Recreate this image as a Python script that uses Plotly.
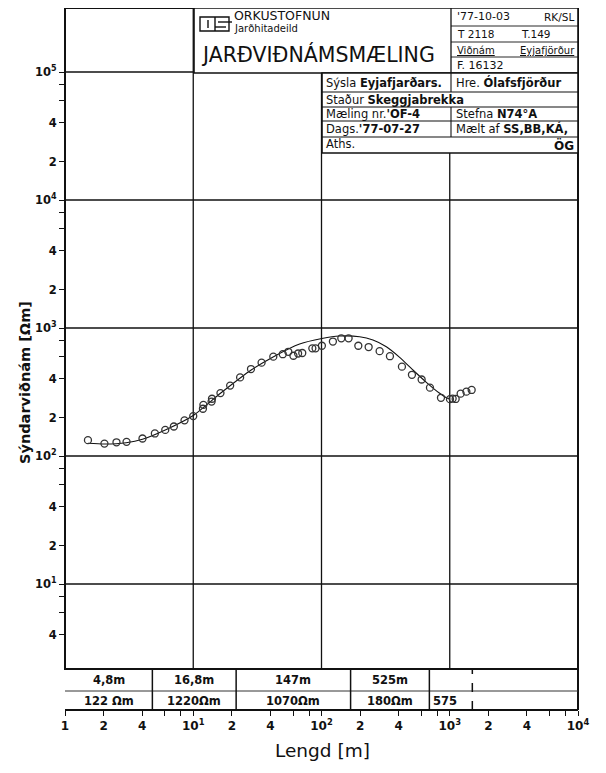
import numpy as np
import plotly.graph_objects as go

# ---------------- data ----------------
spacing_m = [1.51, 2.03, 2.52, 3.02, 4.02, 5.02, 6.05, 7.06, 8.55, 10.0,
             11.9, 12.0, 13.9, 14.0, 16.3, 19.4, 23.2, 28.2, 34.1, 42.1,
             49.9, 55.1, 60.4, 65.7, 70.8, 84.8, 89.9, 100.7, 122.7, 142.7,
             162.7, 193.7, 233.1, 283.9, 341.7, 423.8, 507.2, 603.6, 700.9, 854.1,
             1004, 1053, 1112, 1216, 1348, 1482]
rho_apparent = [133, 125, 128, 129, 137, 150, 160, 170, 190, 205,
                234, 251, 266, 280, 310, 355, 411, 478, 536, 597,
                624, 652, 607, 632, 638, 694, 694, 727, 784, 831,
                831, 727, 710, 659, 602, 499, 431, 396, 342, 285,
                278, 281, 279, 307, 318, 328]

model_spacing = [1.51, 2.03, 3.0, 4.02, 6.05, 10.0, 16.3, 28.3, 42.3, 67.5,
                 100.7, 138.4, 198.3, 251.8, 320.3, 406.7, 516.4, 657.0, 834.2, 940.8, 998]
model_rho = [125.7, 124.1, 127.0, 135.1, 159.7, 207.3, 309.0, 469.8, 596.9, 749.9,
             827.9, 865.9, 855.1, 805.6, 714.3, 590.4, 469.8, 376.6, 309.0, 285.4, 278.7]

layer_thickness = [4.8, 16.8, 147, 525]
layer_thickness_labels = ["4,8m", "16,8m", "147m", "525m"]
layer_res_labels = ["122 Ωm", "1220Ωm", "1070Ωm", "180Ωm", "575"]
table_end_m = 1500

x_tick_vals = [1, 2, 4, 10, 20, 40, 100, 200, 400, 1000, 2000, 4000, 10000]
x_tick_text = ["1", "2", "4", "10<sup>1</sup>", "2", "4", "10<sup>2</sup>", "2", "4",
               "10<sup>3</sup>", "2", "4", "10<sup>4</sup>"]
x_minor_vals = [6, 8, 60, 80, 600, 800, 6000, 8000]
y_tick_vals = [4, 10, 20, 40, 100, 200, 400, 1000, 2000, 4000, 10000, 20000, 40000, 100000]
y_tick_text = ["4", "10<sup>1</sup>", "2", "4", "10<sup>2</sup>", "2", "4",
               "10<sup>3</sup>", "2", "4", "10<sup>4</sup>", "2", "4", "10<sup>5</sup>"]
y_minor_vals = [6, 8, 60, 80, 600, 800, 6000, 8000, 60000, 80000]
decades_x = [10, 100, 1000]
decades_y = [10, 100, 1000, 10000, 100000]

# ---------------- geometry ----------------
# the page puts the figure 8 px from the window's top-left corner
OFF = 8
W, H = 606 - OFF, 773 - OFF
L, R, T, B = 65 - OFF, 28, 0, 63
PW = W - L - R
PH = H - T - B


def px(x):
    """window pixel x -> paper fraction"""
    return (x - OFF - L) / PW


def py(y):
    """window pixel y -> paper fraction"""
    return (H - B - (y - OFF)) / PH


TABLE_TOP = py(669)
FONT = "DejaVu Sans"
INK = "#111111"

fig = go.Figure()
fig.add_trace(go.Scatter(x=model_spacing, y=model_rho, mode="lines",
                         line=dict(color=INK, width=1.1, shape="spline", smoothing=0.6),
                         hoverinfo="skip", showlegend=False))
fig.add_trace(go.Scatter(x=spacing_m, y=rho_apparent, mode="markers",
                         marker=dict(symbol="circle-open", size=7, color="#333333",
                                     line=dict(width=1.3, color="#333333")),
                         showlegend=False))

shapes = []
for xv in decades_x:
    shapes.append(dict(type="line", xref="x", yref="paper", x0=xv, x1=xv,
                       y0=TABLE_TOP, y1=1, line=dict(color=INK, width=1.3), layer="below"))
for yv in decades_y:
    shapes.append(dict(type="line", xref="paper", yref="y", x0=0, x1=1,
                       y0=yv, y1=yv, line=dict(color=INK, width=1.3), layer="below"))
shapes.append(dict(type="rect", xref="paper", yref="paper", x0=0, x1=1, y0=TABLE_TOP, y1=1,
                   line=dict(color=INK, width=2), layer="above"))
# layer table
shapes.append(dict(type="line", xref="paper", yref="paper", x0=1, x1=1, y0=0, y1=TABLE_TOP,
                   line=dict(color=INK, width=2)))
shapes.append(dict(type="line", xref="paper", yref="paper", x0=0, x1=1, y0=py(691), y1=py(691),
                   line=dict(color="#333333", width=1)))
boundaries = list(np.cumsum(layer_thickness))
for bx in boundaries:
    shapes.append(dict(type="line", xref="x", yref="paper", x0=bx, x1=bx, y0=0, y1=TABLE_TOP,
                       line=dict(color=INK, width=1.5)))
shapes.append(dict(type="line", xref="x", yref="paper", x0=table_end_m, x1=table_end_m,
                   y0=0, y1=TABLE_TOP, line=dict(color=INK, width=1.5, dash="dash")))


def rect(x0, y0, x1, y1, width=1.5, fill="white"):
    shapes.append(dict(type="rect", xref="paper", yref="paper", x0=px(x0), x1=px(x1),
                       y0=py(y1), y1=py(y0), line=dict(color=INK, width=width),
                       fillcolor=fill, layer="above"))


def hline(x0, x1, y, width=1.0):
    shapes.append(dict(type="line", xref="paper", yref="paper", x0=px(x0), x1=px(x1),
                       y0=py(y), y1=py(y), line=dict(color=INK, width=width), layer="above"))


def vline(x, y0, y1, width=1.0):
    shapes.append(dict(type="line", xref="paper", yref="paper", x0=px(x), x1=px(x),
                       y0=py(y0), y1=py(y1), line=dict(color=INK, width=width), layer="above"))


# title block
rect(194, 8, 578, 73, width=1.6)
rect(322, 73, 578, 153, width=1.6)
vline(451, 8, 73, 1.3)
for yy in (26, 42, 57):
    hline(451, 578, yy, 0.9)
for yy in (92, 107, 121, 137):
    hline(322, 578, yy, 1.1)
vline(451, 73, 92, 1.1)
vline(451, 107, 137, 1.1)
# logo
rect(200, 17, 229, 31, width=1.4, fill="rgba(0,0,0,0)")
vline(208, 20, 28, 1.4)
vline(215, 17, 31, 1.4)
hline(218, 232, 22, 1.4)
hline(215, 226, 27, 1.4)

annotations = []


def txt(x, y, s, size=11, anchor="left"):
    annotations.append(dict(x=px(x), y=py(y), xref="paper", yref="paper", text=s,
                            showarrow=False, xanchor=anchor, yanchor="middle",
                            font=dict(family=FONT, size=size, color=INK)))


txt(232, 15, "ORKUSTOFNUN", 12.5)
txt(232, 28.5, "Jarðhitadeild", 10)
txt(199, 55, "JARÐVIÐNÁMSMÆLING", 20.5)
txt(455, 17, "'77-10-03", 11)
txt(576, 17, "RK/SL", 10.5, "right")
txt(455, 34, "T 2118", 10.5)
txt(519, 34, "T.149", 10.5)
txt(455, 50, "<u>Viðnám</u>", 10)
txt(577, 50, "<u>Eyjafjörður</u>", 10, "right")
txt(455, 65, "F. 16132", 11)
txt(324, 83, "Sýsla <b>Eyjafjarðars.</b>", 11.5)
txt(454, 83, "Hre. <b>Ólafsfjörður</b>", 11.5)
txt(324, 100, "Staður <b>Skeggjabrekka</b>", 11.5)
txt(324, 114, "Mæling nr.<b>'OF-4</b>", 11.5)
txt(454, 114, "Stefna <b>N74°A</b>", 11.5)
txt(324, 129, "Dags.<b>'77-07-27</b>", 11.5)
txt(454, 129, "Mælt af <b>SS,BB,KÁ,</b>", 11.5)
txt(324, 144, "Aths.", 11.5)
txt(576, 146, "<b>ÖG</b>", 12, "right")

edges = [1.0] + boundaries
for i, lab in enumerate(layer_thickness_labels):
    cx = (np.log10(edges[i]) + np.log10(edges[i + 1])) / 2
    annotations.append(dict(x=cx, y=py(680), xref="x", yref="paper", text="<b>%s</b>" % lab,
                            showarrow=False, xanchor="center", yanchor="middle",
                            font=dict(family=FONT, size=11.5, color=INK)))
for i, lab in enumerate(layer_res_labels):
    if i < len(layer_thickness):
        cx = (np.log10(edges[i]) + np.log10(edges[i + 1])) / 2
        anchor = "center"
    else:
        cx = np.log10(boundaries[-1]) + 0.015
        anchor = "left"
    annotations.append(dict(x=cx, y=py(701), xref="x", yref="paper", text="<b>%s</b>" % lab,
                            showarrow=False, xanchor=anchor, yanchor="middle",
                            font=dict(family=FONT, size=11.5, color=INK)))

annotations.append(dict(x=px(25), y=py(383), xref="paper", yref="paper",
                        text="<b>Sýndarviðnám [Ωm]</b>", textangle=-90, showarrow=False,
                        xanchor="center", yanchor="middle",
                        font=dict(family=FONT, size=14.5, color=INK)))
annotations.append(dict(x=px(322), y=py(750), xref="paper", yref="paper",
                        text="Lengd [m]", showarrow=False, xanchor="center", yanchor="middle",
                        font=dict(family=FONT, size=18.5, color=INK)))

fig.update_layout(
    width=W, height=H,
    margin=dict(l=L, r=R, t=T, b=B, pad=0),
    paper_bgcolor="white", plot_bgcolor="white",
    xaxis=dict(type="log", range=[0, 4], anchor="free", position=0,
               showgrid=False, zeroline=False, showline=True, linecolor=INK, linewidth=1.6,
               ticks="outside", ticklen=5, tickwidth=1.2, tickcolor=INK,
               tickvals=x_tick_vals, ticktext=["<b>%s</b>" % t for t in x_tick_text],
               tickfont=dict(family=FONT, size=12, color=INK),
               minor=dict(tickvals=x_minor_vals, ticks="outside", ticklen=5, tickwidth=1.2,
                          tickcolor=INK, showgrid=False)),
    yaxis=dict(type="log", range=[0.336, 5.5], domain=[TABLE_TOP, 1],
               showgrid=False, zeroline=False, showline=False,
               ticks="outside", ticklen=5, tickwidth=1.2, tickcolor=INK,
               tickvals=y_tick_vals, ticktext=["<b>%s</b>" % t for t in y_tick_text],
               tickfont=dict(family=FONT, size=11.5, color=INK),
               minor=dict(tickvals=y_minor_vals, ticks="outside", ticklen=5, tickwidth=1.2,
                          tickcolor=INK, showgrid=False)),
    shapes=shapes,
    annotations=annotations,
)

fig.write_html("out.html")
